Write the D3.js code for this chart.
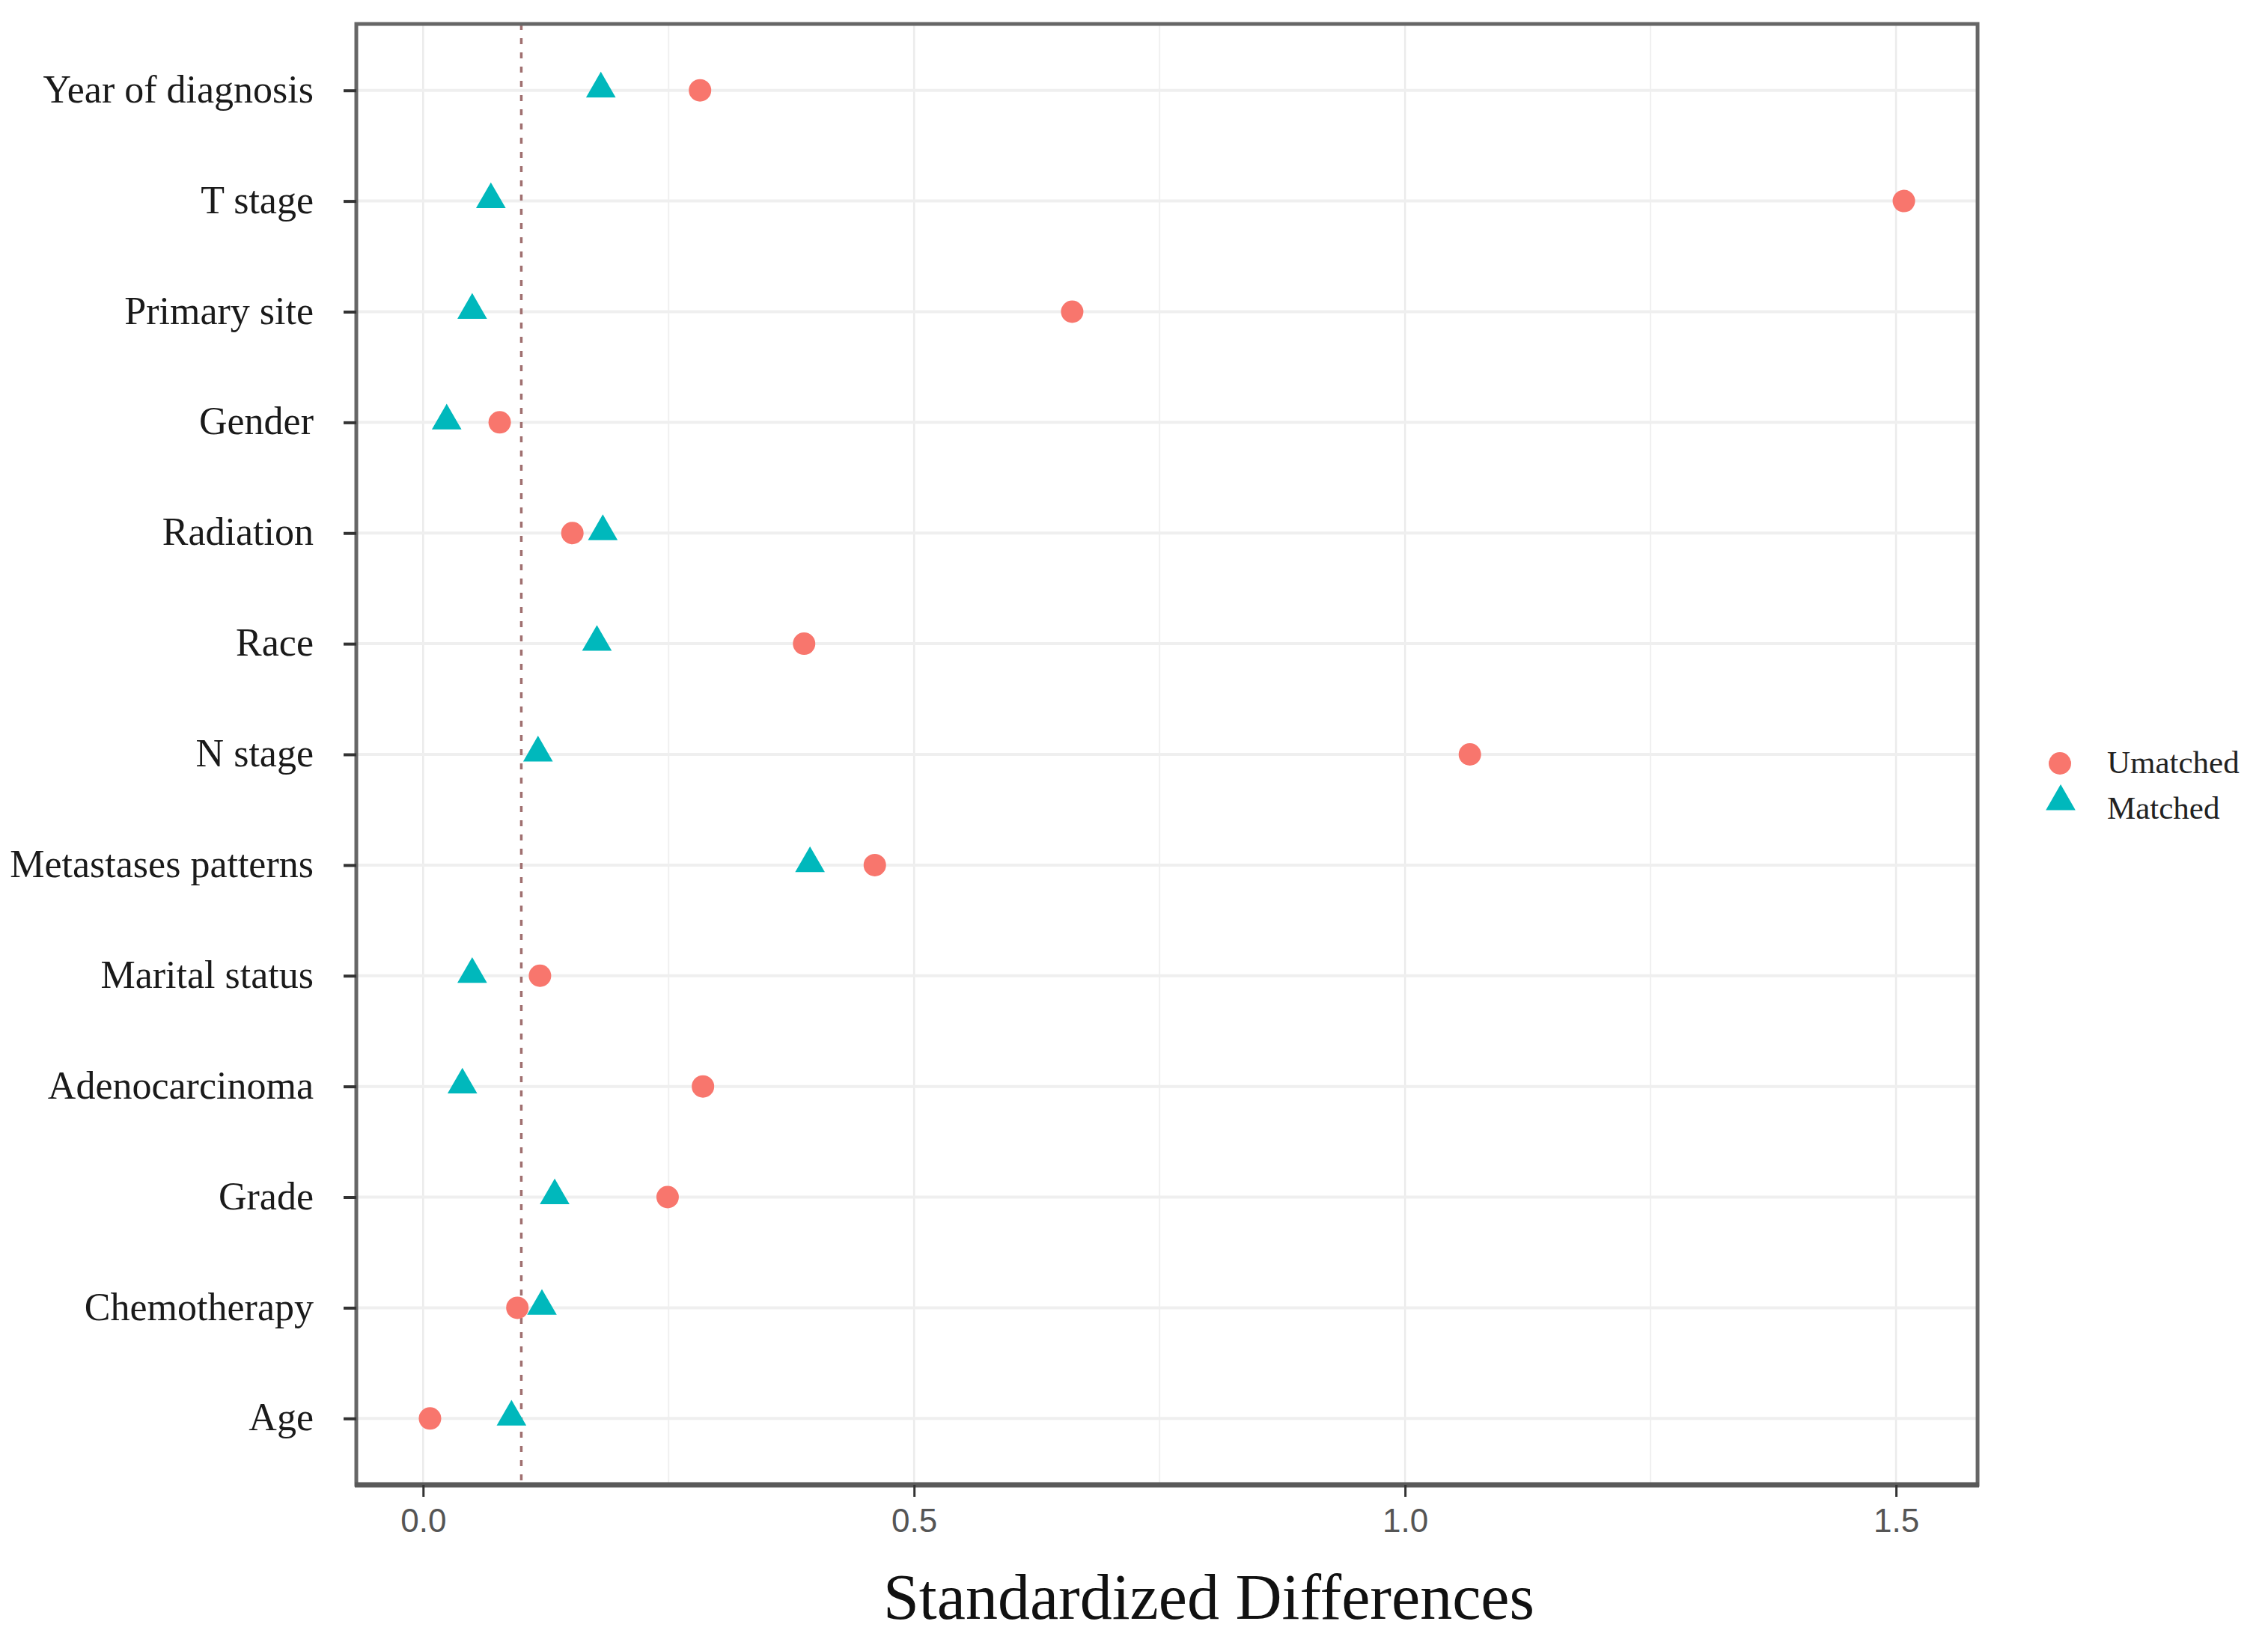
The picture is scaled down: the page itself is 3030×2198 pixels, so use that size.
<!DOCTYPE html>
<html>
<head>
<meta charset="utf-8">
<script src="https://cdn.jsdelivr.net/npm/d3@7"></script>
<style>
  body { margin: 0; background: #fff; }
  svg text { font-family: "Liberation Serif", "Times New Roman", serif; }
  svg .x-axis text { font-family: "Liberation Sans", Arial, sans-serif; }
</style>
</head>
<body>
<div id="chart"></div>
<script>
// covariates, top to bottom
var categories = ["Year of diagnosis", "T stage", "Primary site", "Gender", "Radiation", "Race",
    "N stage", "Metastases patterns", "Marital status", "Adenocarcinoma", "Grade", "Chemotherapy", "Age"];

// standardized differences
var unmatched = [0.282, 1.508, 0.661, 0.078, 0.152, 0.388, 1.066, 0.460, 0.119, 0.285, 0.249, 0.096, 0.007];
var matched   = [0.181, 0.069, 0.050, 0.024, 0.183, 0.177, 0.117, 0.394, 0.050, 0.040, 0.134, 0.121, 0.090];

var xTicks = [0, 0.5, 1.0, 1.5];
var xMinorTicks = [0.25, 0.75, 1.25];
var threshold = 0.1;
var seriesNames = ["Umatched", "Matched"];
var seriesColors = ["#F8766D", "#00B8BC"];

var width = 3030, height = 2198;
var margin = { top: 32, right: 388, bottom: 214, left: 476 };
var innerW = width - margin.left - margin.right,
    innerH = height - margin.top - margin.bottom;

var svg = d3.select("#chart").append("svg")
    .attr("width", width)
    .attr("height", height);

var g = svg.append("g")
    .attr("transform", "translate(" + margin.left + "," + margin.top + ")");

// ggplot-like 5% expansion on the continuous axis
var all = unmatched.concat(matched);
var ext = d3.extent(all);
var pad = (ext[1] - ext[0]) * 0.05;
var x = d3.scaleLinear()
    .domain([ext[0] - pad, ext[1] + pad])
    .range([0, innerW]);

var y = d3.scalePoint()
    .domain(categories)
    .range([0, innerH])
    .padding(0.6);

// grid
g.selectAll(".minor-x").data(xMinorTicks).enter().append("line")
    .attr("x1", function(d) { return x(d); })
    .attr("x2", function(d) { return x(d); })
    .attr("y1", 0).attr("y2", innerH)
    .attr("stroke", "#f0f0f0").attr("stroke-width", 2);

g.selectAll(".major-x").data(xTicks).enter().append("line")
    .attr("x1", function(d) { return x(d); })
    .attr("x2", function(d) { return x(d); })
    .attr("y1", 0).attr("y2", innerH)
    .attr("stroke", "#ebebeb").attr("stroke-width", 2.5);

g.selectAll(".major-y").data(categories).enter().append("line")
    .attr("x1", 0).attr("x2", innerW)
    .attr("y1", function(d) { return y(d); })
    .attr("y2", function(d) { return y(d); })
    .attr("stroke", "#efefef").attr("stroke-width", 4);

// reference line at 0.1
g.append("line")
    .attr("x1", x(threshold)).attr("x2", x(threshold))
    .attr("y1", 0).attr("y2", innerH)
    .attr("stroke", "#a07070")
    .attr("stroke-width", 3.5)
    .attr("stroke-dasharray", "8,11");

// points
var tri = d3.symbol().type(d3.symbolTriangle).size(680);

g.selectAll(".unmatched").data(categories).enter().append("circle")
    .attr("cx", function(d, i) { return x(unmatched[i]); })
    .attr("cy", function(d) { return y(d); })
    .attr("r", 15)
    .attr("fill", seriesColors[0]);

g.selectAll(".matched").data(categories).enter().append("path")
    .attr("d", tri)
    .attr("transform", function(d, i) { return "translate(" + x(matched[i]) + "," + (y(d) - 2) + ")"; })
    .attr("fill", seriesColors[1]);

// panel border
g.append("rect")
    .attr("width", innerW).attr("height", innerH)
    .attr("fill", "none")
    .attr("stroke", "#666").attr("stroke-width", 5);
g.append("line")
    .attr("x1", -2).attr("x2", innerW + 2)
    .attr("y1", innerH).attr("y2", innerH)
    .attr("stroke", "#595959").attr("stroke-width", 7);

// y axis
var yAxis = g.append("g")
    .call(d3.axisLeft(y).tickSize(17).tickPadding(40));
yAxis.select(".domain").remove();
yAxis.selectAll(".tick line").attr("stroke", "#333").attr("stroke-width", 4);
yAxis.selectAll(".tick text")
    .attr("font-size", 52)
    .attr("fill", "#1a1a1a")
    .attr("dy", "0.3em");

// x axis
var xAxis = g.append("g")
    .attr("class", "x-axis")
    .attr("transform", "translate(0," + innerH + ")")
    .call(d3.axisBottom(x).tickValues(xTicks).tickFormat(d3.format(".1f")).tickSize(16).tickPadding(16));
xAxis.select(".domain").remove();
xAxis.selectAll(".tick line").attr("stroke", "#333").attr("stroke-width", 3);
xAxis.selectAll(".tick text")
    .attr("font-size", 44)
    .attr("fill", "#555");

// axis title
svg.append("text")
    .attr("x", 1615)
    .attr("y", 2163)
    .attr("text-anchor", "middle")
    .attr("font-size", 86)
    .attr("fill", "#111")
    .text("Standardized Differences");

// legend
var legend = svg.append("g").attr("transform", "translate(2752,1020)");
legend.append("circle").attr("r", 15).attr("fill", seriesColors[0]);
legend.append("path").attr("d", tri)
    .attr("transform", "translate(1,51)")
    .attr("fill", seriesColors[1]);
legend.selectAll(".lbl").data(seriesNames).enter().append("text")
    .attr("x", 63)
    .attr("y", function(d, i) { return 13 + i * 61; })
    .attr("font-size", 43)
    .attr("fill", "#222")
    .text(function(d) { return d; });
</script>
</body>
</html>
